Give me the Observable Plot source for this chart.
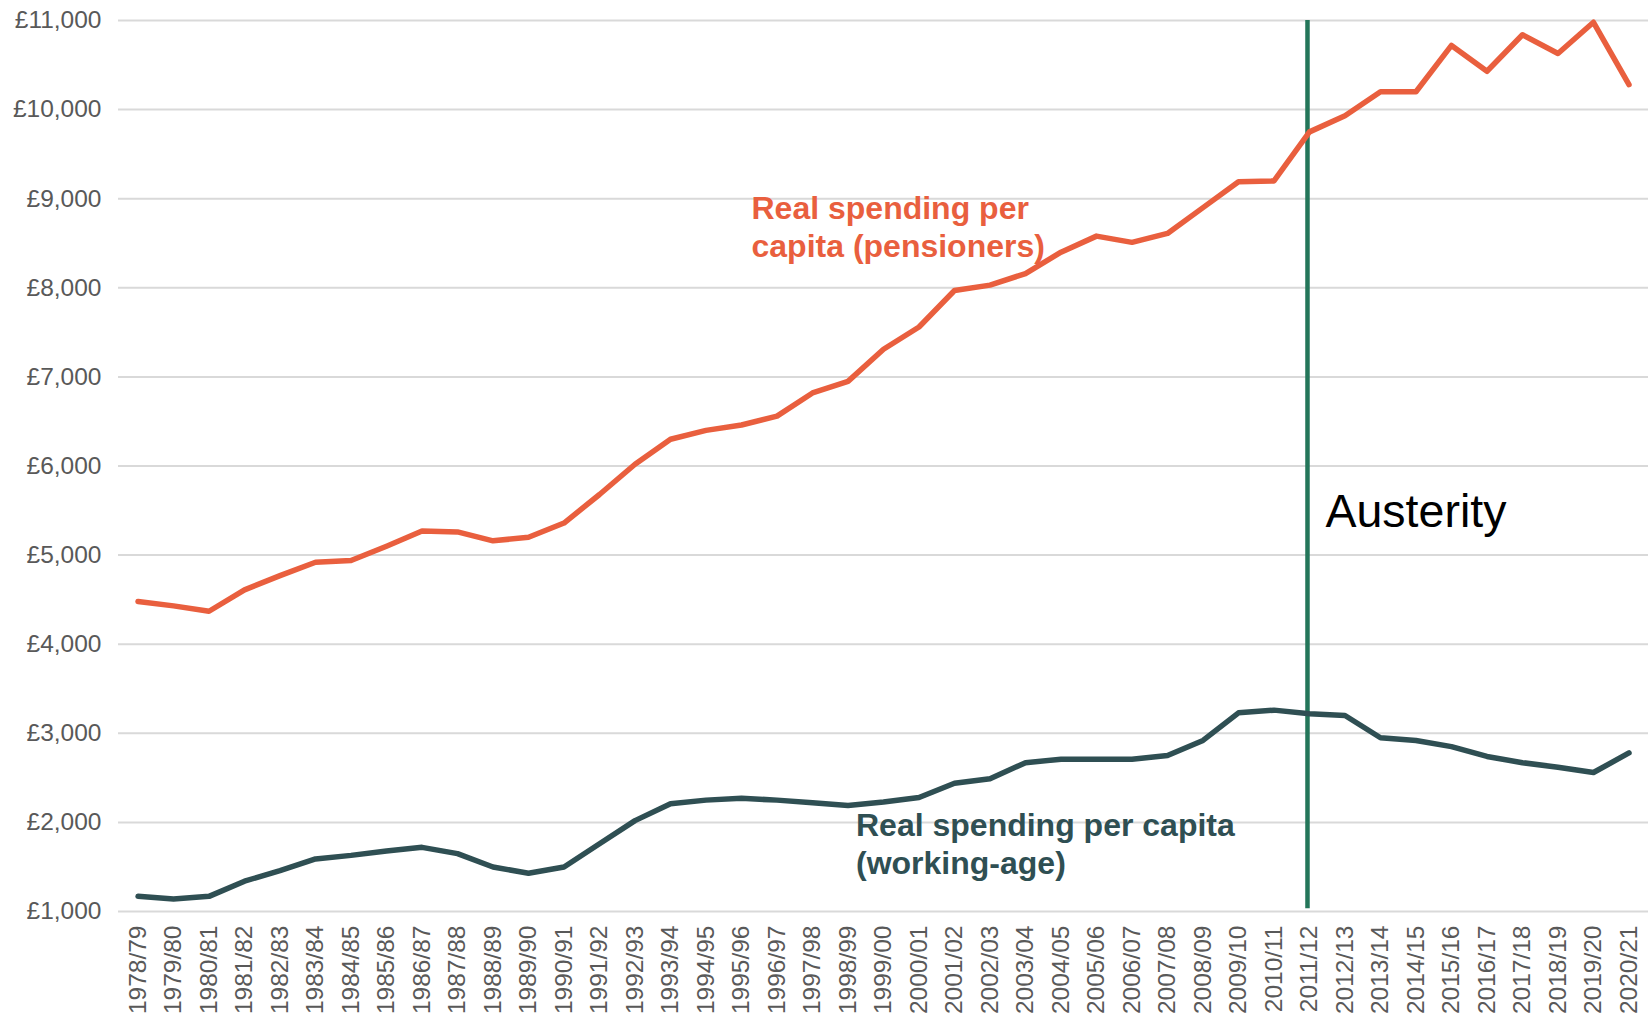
<!DOCTYPE html>
<html>
<head>
<meta charset="utf-8">
<script src="https://cdn.jsdelivr.net/npm/d3@7"></script>
<script src="https://cdn.jsdelivr.net/npm/@observablehq/plot@0.6"></script>
<style>
  html, body { margin: 0; padding: 0; background: #ffffff; overflow: hidden; }
  #chart svg { display: block; }
</style>
</head>
<body>
<div id="chart"></div>
<script>
const years = ["1978/79","1979/80","1980/81","1981/82","1982/83","1983/84","1984/85","1985/86","1986/87","1987/88","1988/89","1989/90","1990/91","1991/92","1992/93","1993/94","1994/95","1995/96","1996/97","1997/98","1998/99","1999/00","2000/01","2001/02","2002/03","2003/04","2004/05","2005/06","2006/07","2007/08","2008/09","2009/10","2010/11","2011/12","2012/13","2013/14","2014/15","2015/16","2016/17","2017/18","2018/19","2019/20","2020/21"];

const pensioners = [4480,4430,4370,4610,4770,4920,4940,5100,5270,5260,5160,5200,5360,5680,6020,6300,6400,6460,6560,6820,6950,7310,7560,7970,8030,8160,8400,8580,8510,8610,8900,9190,9200,9750,9930,10200,10200,10720,10430,10840,10630,10980,10280];

const workingAge = [1170,1140,1170,1340,1460,1590,1630,1680,1720,1650,1500,1430,1500,1760,2020,2210,2250,2270,2250,2220,2190,2230,2280,2440,2490,2670,2710,2710,2710,2750,2920,3230,3260,3220,3200,2950,2920,2850,2740,2670,2620,2560,2780];

const yTicks = [1000,2000,3000,4000,5000,6000,7000,8000,9000,10000,11000];

const austerityYear = "2011/12";
const pensLabel = "Real spending per\ncapita (pensioners)";
const workLabel = "Real spending per capita\n(working-age)";
const austerityLabel = "Austerity";

const pensData = years.map((y, i) => ({year: y, value: pensioners[i]}));
const workData = years.map((y, i) => ({year: y, value: workingAge[i]}));

const orange = "#E95F3E";
const slate = "#2F4F53";
const green = "#24765A";

const chart = Plot.plot({
  width: 1648,
  height: 1014,
  marginLeft: 118,
  marginRight: 0,
  marginTop: 20,
  marginBottom: 103,
  style: {fontFamily: "'Liberation Sans', Arial, sans-serif", background: "#ffffff"},
  x: {type: "point", domain: years, padding: 0.55, round: false, label: null},
  y: {domain: [1000, 11000], label: null},
  marks: [
    Plot.gridY(yTicks, {stroke: "#d9d9d9", strokeWidth: 2, strokeOpacity: 1}),
    Plot.axisY(yTicks, {tickSize: 0, tickPadding: 17, tickFormat: d => "£" + d3.format(",")(d), fontSize: 24.5, fill: "#595959", label: null}),
    Plot.axisX({tickSize: 0, tickRotate: -90, tickPadding: 14, fontSize: 24.5, fill: "#595959", label: null}),
    Plot.ruleX([austerityYear], {y1: 1030, y2: 11000, dx: -2, stroke: green, strokeWidth: 4.5}),
    Plot.line(pensData, {x: "year", y: "value", stroke: orange, strokeWidth: 5.5, strokeLinecap: "round", strokeLinejoin: "round"}),
    Plot.line(workData, {x: "year", y: "value", stroke: slate, strokeWidth: 5.5, strokeLinecap: "round", strokeLinejoin: "round"}),
    Plot.text([pensLabel], {x: () => "1995/96", y: () => 8700, text: d => d, dx: 10, textAnchor: "start", lineAnchor: "middle", lineHeight: 1.2, fontSize: 32, fontWeight: "bold", fill: orange}),
    Plot.text([workLabel], {x: () => "1998/99", y: () => 1770, text: d => d, dx: 8, textAnchor: "start", lineAnchor: "middle", lineHeight: 1.2, fontSize: 32, fontWeight: "bold", fill: slate}),
    Plot.text([austerityLabel], {x: () => austerityYear, y: () => 5480, text: d => d, dx: 16, textAnchor: "start", lineAnchor: "middle", fontSize: 46.5, fill: "#000000"})
  ]
});

document.getElementById("chart").appendChild(chart);
</script>
</body>
</html>
